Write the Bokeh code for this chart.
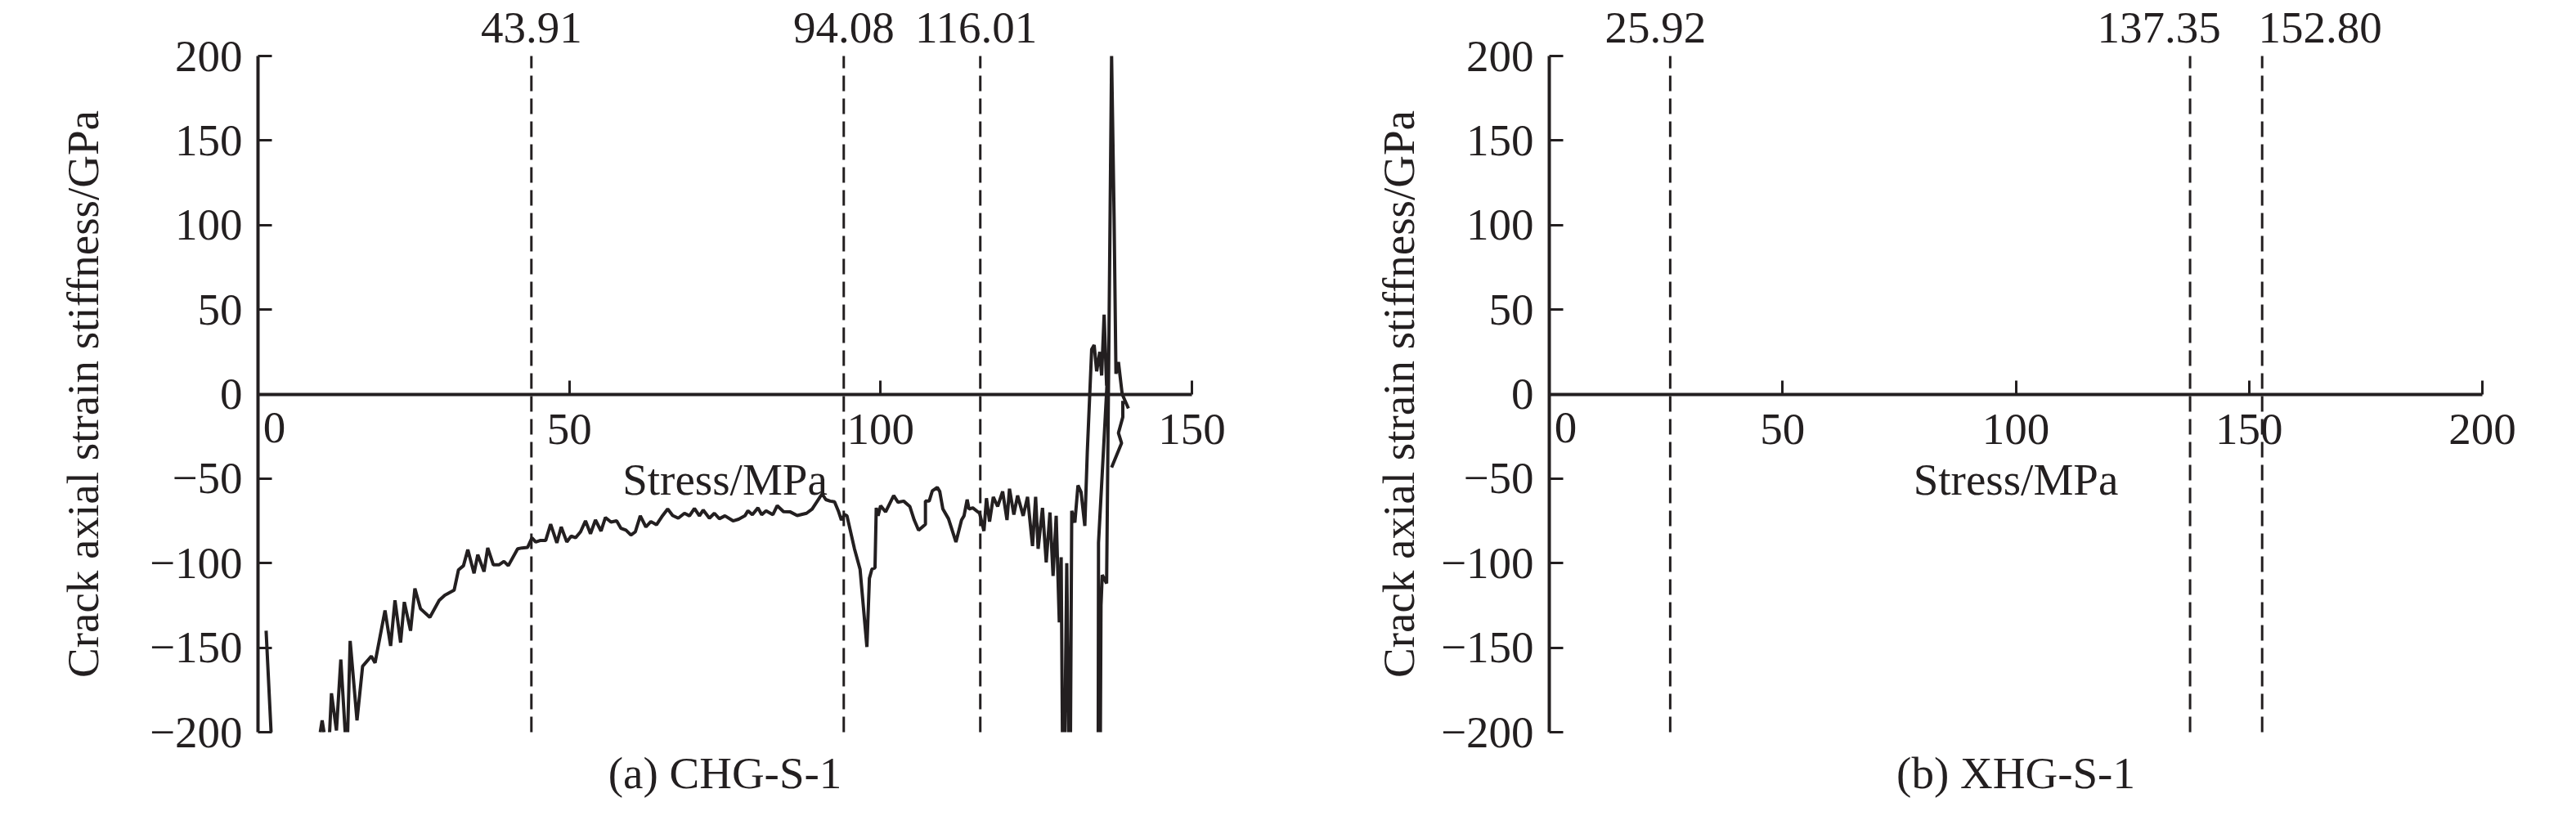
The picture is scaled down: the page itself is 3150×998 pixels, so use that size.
import math
from bokeh.plotting import figure
from bokeh.layouts import row
from bokeh.models import Range1d
from bokeh.core.properties import value
from bokeh.embed import file_html
from bokeh.resources import INLINE

NaN = float("nan")

# ---------------- data ----------------
# (a) CHG-S-1 : stress (MPa) vs crack axial strain stiffness (GPa).
# The curve leaves the -200 GPa floor of the chart several times; NaN breaks the line there.
stress_a = [1.3, 2.1, NaN,
            10.0, 10.3, 10.6, NaN,
            11.5, 11.8, 12.6, 13.3, 14.0, NaN,
            14.4, 14.8, 15.9, 16.8, 18.2, 18.8,
            20.4, 21.3, 22.0, 22.9, 23.5, 24.5, 25.2, 26.1, 27.6, 29.1, 30.0, 31.5, 32.2, 33.0, 33.7,
            34.7, 35.3, 36.3, 36.9, 37.8, 38.7, 39.5, 40.2, 41.7, 42.4, 43.3, 44.0, 44.6, 45.3, 46.2,
            47.0, 48.0, 48.7, 49.6, 50.3, 51.0, 51.8, 52.6, 53.4, 54.2, 55.1, 55.8, 56.7, 57.6, 58.3,
            59.1, 59.9, 60.6, 61.4, 62.3, 63.1, 64.0, 65.0, 65.8, 66.6, 67.5, 68.5, 69.3, 70.1, 70.9,
            71.5, 72.5, 73.3, 74.1, 75.0, 76.3, 77.2, 78.2, 78.7, 79.4, 80.3, 80.9, 81.6, 82.7, 83.4,
            84.4, 85.5, 86.6, 88.1, 89.0, 90.6, 91.2, 91.9, 92.6, 93.2, 93.7, 94.2, 94.6, 95.8, 96.7,
            97.8, 98.2, 98.6, 99.1, 99.3, 99.6, 100.0, 100.8, 102.1, 102.8, 103.7, 104.7, 105.4, 106.1,
            107.2, 107.2, 107.8, 108.3, 109.1, 109.5, 110.0, 110.9, 112.1, 113.0, 113.4, 113.9, 114.2,
            114.8, 115.9, 116.6, 117.0, 117.5, 118.1, 118.8, 119.6, 120.3, 120.7, 121.4, 122.0, 122.9,
            123.6, 124.4, 124.9, 125.3, 126.0, 126.6, 127.2, 127.7, 128.2, 128.7, 129.0, 129.2, NaN,
            129.6, 129.9, 130.2, NaN,
            130.5, 130.7, 131.2, 131.7, 132.2, 132.8, 133.2, 133.9, 134.3, 134.7, 135.2, 135.5, 135.9,
            136.3, 136.6, 135.0, 134.95, NaN,
            135.3, 135.4, 135.6, 136.3, 137.1, 137.5, 137.8, 138.2, 138.8, 139.8, NaN,
            138.9, 138.9, 138.2, 138.7, 137.1]
stiffness_a = [-140, -200, NaN,
               -200, -193, -200, NaN,
               -200, -177, -199, -157, -200, NaN,
               -200, -146, -193, -161, -155, -159,
               -128, -149, -122, -147, -123, -140, -115, -127, -132, -122, -119, -116, -104, -101.5, -92,
               -106, -95, -105, -91, -101, -101, -99, -101.5, -91.5, -91, -90.7, -85, -87.5, -86.6, -86.6,
               -77, -88, -78.6, -87.5, -84, -85, -81.5, -75, -82.6, -74.5, -81, -73, -75.7, -75, -79.4,
               -80.5, -83.4, -81.5, -72, -78.6, -75.4, -77.3, -71.8, -68, -71.8, -73.4, -70.5, -72, -67.6, -72,
               -68.6, -73.4, -70.5, -73.7, -72, -75, -74, -72, -69, -71.3, -67.3, -71.3, -69, -71.3, -66,
               -69.5, -69.7, -71.8, -70.5, -68, -59, -62.4, -63.3, -63.7, -69, -74.5, -71.3, -72, -91.5, -103.6,
               -149.6, -109, -103.6, -102.8, -67.3, -72, -66, -69.7, -60, -64, -63.3, -66.5, -74.5, -80.5,
               -77, -63.3, -63.3, -57.3, -55.2, -57.6, -68, -73.7, -87.5, -74.5, -72, -62.4, -68,
               -67.3, -70.5, -81, -61.6, -75.4, -60.8, -66.5, -57.6, -74.5, -56, -71.3, -60, -72,
               -60.8, -89.9, -60.8, -91.5, -67.3, -99.6, -70, -107.6, -72, -135, -96.5, -200, NaN,
               -200, -100, -200, NaN,
               -200, -69, -76, -54, -58, -78, -34, 26.5, 29, 13.5, 25, 11, 47,
               5, 22, -88, -200, NaN,
               -200, -125, -107, -112, 200, 105, 12, 19, 0, -8.5, NaN,
               -4, -13.6, -23, -29, -43.4]

marks_a = [43.91, 94.08, 116.01]
mark_labels_a = ["43.91", "94.08", "116.01"]
marks_b = [25.92, 137.35, 152.80]
mark_labels_b = ["25.92", "137.35", "152.80"]

x_ticks_a = [0, 50, 100, 150]
x_ticks_b = [0, 50, 100, 150, 200]
y_ticks = [-200, -150, -100, -50, 0, 50, 100, 150, 200]
y_tick_labels = ["\u2212200", "\u2212150", "\u2212100", "\u221250", "0", "50", "100", "150", "200"]

titles = ["(a) CHG-S-1", "(b) XHG-S-1"]
x_label = "Stress/MPa"
y_label = "Crack axial strain stiffness/GPa"

# ---------------- style / layout (pixels) ----------------
INK = "#231f20"
FONT = "Liberation Serif"
FS = "55px"
FIG_W, FIG_H = 1567, 990
Y_TOP_PX, Y_BOT_PX = 68, 895          # pixel rows of +200 and -200
PPY = (Y_BOT_PX - Y_TOP_PX) / 400.0


def make_panel(x_max, x_ticks, marks, mark_labels, mark_dx, title, x0_px, plot_w, ylab_dx,
               xs=None, ys=None):
    ppx = plot_w / float(x_max)
    x_rng = Range1d(-x0_px / ppx, (FIG_W - x0_px) / ppx)
    y_rng = Range1d(-200 - (FIG_H - Y_BOT_PX) / PPY, 200 + Y_TOP_PX / PPY)
    p = figure(frame_width=FIG_W, frame_height=FIG_H, x_range=x_rng, y_range=y_rng,
               output_backend="svg", toolbar_location=None,
               min_border_left=0, min_border_right=0, min_border_top=0, min_border_bottom=0)
    p.outline_line_color = None
    p.grid.visible = False
    p.background_fill_color = "white"
    p.border_fill_color = "white"

    for ax in (p.xaxis, p.yaxis):
        ax.axis_line_color = INK
        ax.axis_line_width = 4
        ax.major_tick_line_color = INK
        ax.major_tick_line_width = 3
        ax.major_tick_in = 17
        ax.major_tick_out = 0
        ax.minor_tick_line_color = None
        ax.major_label_text_font = FONT
        ax.major_label_text_font_size = FS
        ax.major_label_text_color = INK

    p.xaxis.fixed_location = 0
    p.xaxis.bounds = (0, x_max)
    p.xaxis.ticker = x_ticks
    p.xaxis.major_label_overrides = {0: ""}
    p.xaxis.major_label_standoff = 25

    p.yaxis.fixed_location = 0
    p.yaxis.bounds = (-200, 200)
    p.yaxis.ticker = y_ticks
    p.yaxis.major_label_overrides = dict(zip(y_ticks, y_tick_labels))
    p.yaxis.major_label_standoff = 19

    txt = dict(text_font=value(FONT), text_font_size=FS, text_color=INK)

    # the origin label of the stress axis sits just right of the vertical axis
    p.text(x=[x_ticks[0]], y=[0], text=[str(x_ticks[0])], x_offset=20, y_offset=41,
           text_align="center", text_baseline="middle", **txt)

    # axis titles and panel caption
    p.text(x=[x_max / 2.0], y=[0], text=[x_label], y_offset=104,
           text_align="center", text_baseline="middle", **txt)
    p.text(x=[0], y=[0], text=[y_label], x_offset=ylab_dx, angle=math.pi / 2,
           text_align="center", text_baseline="middle", **txt)
    p.text(x=[x_max / 2.0], y=[-200], text=[title], y_offset=50,
           text_align="center", text_baseline="middle", **txt)

    # characteristic-stress markers
    n = len(marks)
    p.segment(x0=marks, y0=[-200] * n, x1=marks, y1=[200] * n,
              line_color=INK, line_width=3, line_dash="19 9")
    p.text(x=marks, y=[200] * n, text=mark_labels, x_offset=mark_dx, y_offset=-35,
           text_align="center", text_baseline="middle", **txt)

    if xs is not None:
        p.line(xs, ys, line_color=INK, line_width=4)
    return p


pa = make_panel(150, x_ticks_a, marks_a, mark_labels_a, [0, 0, -5], titles[0],
                315, 1142, -214, stress_a, stiffness_a)
pb = make_panel(200, x_ticks_b, marks_b, mark_labels_b, [-18, -38, 71], titles[1],
                327, 1141, -184)

layout = row(pa, pb)
open("out.html", "w").write(file_html(layout, INLINE))
